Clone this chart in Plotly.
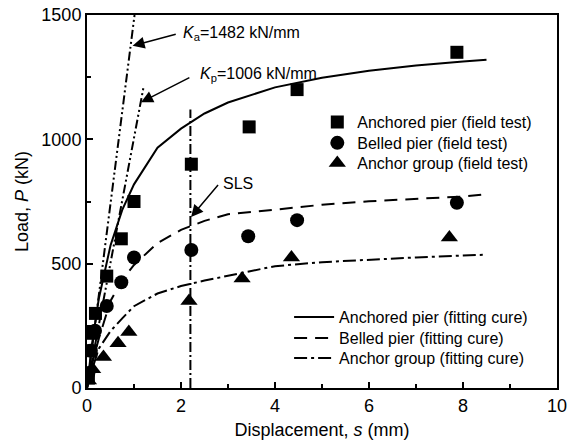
import plotly.graph_objects as go

# Field test data (displacement s in mm, load P in kN)
anch_s = [0.03, 0.08, 0.12, 0.18, 0.42, 0.73, 1.0, 2.22, 3.45, 4.47, 7.87]
anch_P = [40, 150, 220, 300, 450, 600, 750, 900, 1050, 1200, 1350]
bell_s = [0.03, 0.08, 0.17, 0.42, 0.73, 1.0, 2.22, 3.43, 4.47, 7.87]
bell_P = [60, 150, 230, 330, 425, 525, 555, 610, 675, 745]
grp_s = [0.03, 0.12, 0.35, 0.66, 0.89, 2.17, 3.3, 4.35, 7.71]
grp_P = [30, 75, 125, 180, 225, 350, 440, 525, 605]

# Fitting curves
fit_s = [0, 0.05, 0.1, 0.25, 0.5, 0.75, 1, 1.5, 2, 2.5, 3, 4, 5, 6, 7, 8, 8.5]
fit_anch = [0, 88, 168, 358, 573, 716, 819, 966, 1043, 1104, 1148, 1209, 1248, 1276, 1297, 1313, 1320]
fit_bell = [0, 47, 89, 198, 350, 434, 495, 583, 636, 672, 699, 717, 737, 751, 761, 770, 779]
fit_grp = [0, 36, 69, 158, 229, 280, 329, 380, 410, 432, 452, 490, 506, 517, 525, 533, 536]

# Stiffness lines and SLS line
ka_s = [0, 1.012]
ka_P = [0, 1500]
kp_s = [0, 1.2]
kp_P = [0, 1207]
sls_s = [2.2, 2.2]
sls_P = [0, 1120]

FONT = "Liberation Sans, Arial, sans-serif"
LEG_FONT = dict(family=FONT, size=16, color="black")

fig = go.Figure()

# fitting curves (one legend each, for exact row spacing)
fig.add_trace(go.Scatter(x=fit_s, y=fit_anch, mode="lines", name="Anchored pier (fitting cure)",
                         line=dict(color="black", width=2), legend="legend4"))
fig.add_trace(go.Scatter(x=fit_s, y=fit_bell, mode="lines", name="Belled pier (fitting cure)",
                         line=dict(color="black", width=2, dash="13px,8px"), legend="legend5"))
fig.add_trace(go.Scatter(x=fit_s, y=fit_grp, mode="lines", name="Anchor group (fitting cure)",
                         line=dict(color="black", width=2, dash="13px,4px,3px,4px"), legend="legend6"))

# stiffness and SLS lines
fig.add_trace(go.Scatter(x=ka_s, y=ka_P, mode="lines", showlegend=False,
                         line=dict(color="black", width=2, dash="9px,3px,2px,3px,2px,3px")))
fig.add_trace(go.Scatter(x=kp_s, y=kp_P, mode="lines", showlegend=False,
                         line=dict(color="black", width=2, dash="9px,3px,2px,3px,2px,3px")))
fig.add_trace(go.Scatter(x=sls_s, y=sls_P, mode="lines", showlegend=False,
                         line=dict(color="black", width=2, dash="10px,3px,2px,3px")))

# field test markers
fig.add_trace(go.Scatter(x=anch_s, y=anch_P, mode="markers", name="Anchored pier (field test)",
                         marker=dict(symbol="square", size=13, color="black"), legend="legend"))
fig.add_trace(go.Scatter(x=bell_s, y=bell_P, mode="markers", name="Belled pier (field test)",
                         marker=dict(symbol="circle", size=14, color="black"), legend="legend2"))
fig.add_trace(go.Scatter(x=grp_s, y=grp_P, mode="markers", name="Anchor group (field test)",
                         marker=dict(symbol="triangle-up", size=15, color="black"), legend="legend3"))

ann_font = dict(family=FONT, size=16, color="black")
annotations = [
    # arrows
    dict(x=0.97, y=1376, ax=1.92, ay=1424, axref="x", ayref="y", xref="x", yref="y",
         text="", showarrow=True, arrowhead=2, arrowsize=1.6, arrowwidth=1.5, arrowcolor="black"),
    dict(x=1.15, y=1149, ax=2.21, ay=1251, axref="x", ayref="y", xref="x", yref="y",
         text="", showarrow=True, arrowhead=2, arrowsize=1.6, arrowwidth=1.5, arrowcolor="black"),
    dict(x=2.215, y=688, ax=2.815, ay=822, axref="x", ayref="y", xref="x", yref="y",
         text="", showarrow=True, arrowhead=2, arrowsize=1.6, arrowwidth=1.5, arrowcolor="black"),
    # labels
    dict(x=1.99, y=1424, xref="x", yref="y", xanchor="left", yanchor="middle", showarrow=False,
         text="<i>K</i><sub>a</sub>=1482 kN/mm", font=ann_font),
    dict(x=2.36, y=1262, xref="x", yref="y", xanchor="left", yanchor="middle", showarrow=False,
         text="<i>K</i><sub>p</sub>=1006 kN/mm", font=ann_font),
    dict(x=2.85, y=824, xref="x", yref="y", xanchor="left", yanchor="middle", showarrow=False,
         text="SLS", font=ann_font),
]

axis_common = dict(showline=True, linewidth=2, linecolor="black", mirror=True,
                   ticks="inside", ticklen=6, tickwidth=1.5, tickcolor="black",
                   showgrid=False, zeroline=False, automargin=False,
                   tickfont=dict(family=FONT, size=18, color="black"))


def leg(x, y, **kw):
    d = dict(x=x, y=y, xanchor="left", yanchor="middle", bgcolor="rgba(0,0,0,0)",
             font=LEG_FONT, borderwidth=0)
    d.update(kw)
    return d


fig.update_layout(
    width=568, height=444,
    margin=dict(l=86.5, r=11, t=15, b=56),
    paper_bgcolor="white", plot_bgcolor="white",
    font=dict(family=FONT, color="black"),
    xaxis=dict(range=[0, 10], dtick=2, tick0=0,
               minor=dict(dtick=1, ticks="inside", ticklen=4, tickcolor="black", tickwidth=1.5),
               title=dict(text="Displacement, <i>s</i> (mm)", font=dict(family=FONT, size=18), standoff=9),
               **axis_common),
    yaxis=dict(range=[0, 1500], dtick=500, tick0=0,
               minor=dict(dtick=250, ticks="inside", ticklen=4, tickcolor="black", tickwidth=1.5),
               title=dict(text="Load, <i>P</i> (kN)", font=dict(family=FONT, size=18), standoff=8),
               **axis_common),
    legend=leg(0.49, 0.713),
    legend2=leg(0.49, 0.657),
    legend3=leg(0.49, 0.603),
    legend4=leg(0.43, 0.190, itemwidth=40),
    legend5=leg(0.43, 0.134, itemwidth=40),
    legend6=leg(0.43, 0.080, itemwidth=40),
    annotations=annotations,
)

fig.write_html("out.html", config={"displayModeBar": False},
               post_script="document.body.style.margin='0px';")
